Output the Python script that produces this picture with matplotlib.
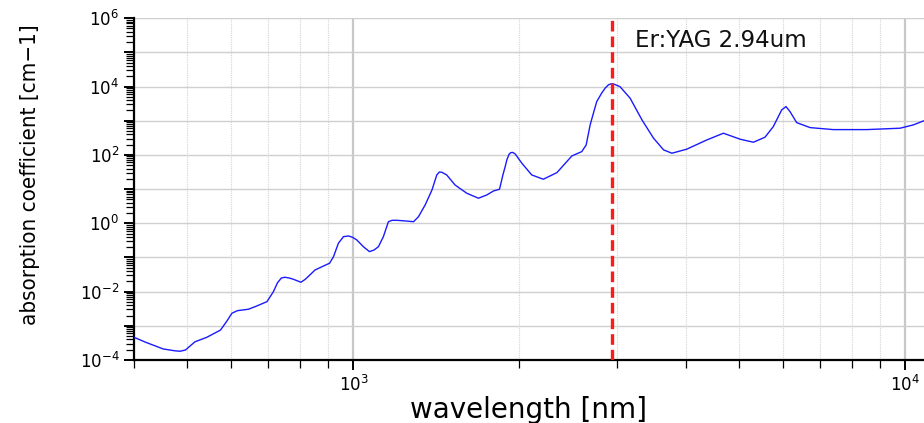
import math

import matplotlib
matplotlib.use("Agg")
import matplotlib.pyplot as plt
from matplotlib import font_manager
from matplotlib.ticker import LogLocator, FuncFormatter, NullFormatter

# Water absorption spectrum
wavelength_nm = [
    400, 422, 452, 475, 485, 496, 506, 516, 542, 574, 590, 602, 616, 645,
    668, 697, 716, 728, 740, 751, 765, 778, 803, 818, 852, 880, 905, 920,
    939, 959, 979, 996, 1014, 1042, 1069, 1090, 1110, 1133, 1157, 1175,
    1199, 1241, 1285, 1312, 1349, 1388, 1416, 1431, 1446, 1476, 1528, 1605,
    1685, 1745, 1795, 1840, 1866, 1884, 1897, 1915, 1929, 1945, 1964, 2020,
    2105, 2209, 2338, 2489, 2594, 2642, 2686, 2723, 2761, 2818, 2860, 2898,
    2930, 2959, 3042, 3174, 3335, 3500, 3650, 3779, 4020, 4372, 4686, 5023,
    5310, 5573, 5770, 5976, 6084, 6187, 6362, 6729, 7413, 8524, 9796,
    10350, 10800,
]
absorption = [
    4.6e-4, 3.2e-4, 2.1e-4, 1.85e-4, 1.8e-4, 1.96e-4, 2.6e-4, 3.4e-4,
    4.6e-4, 7.5e-4, 1.4e-3, 2.33e-3, 2.77e-3, 3.05e-3,
    3.8e-3, 5.1e-3, 1.0e-2, 1.8e-2, 0.025, 0.0263, 0.025, 0.023, 0.0188,
    0.023, 0.043, 0.055, 0.0676, 0.105,
    0.26, 0.405, 0.425, 0.39, 0.325, 0.207, 0.148, 0.165, 0.207, 0.405,
    1.11, 1.22, 1.22, 1.17, 1.11, 1.56, 3.44, 9.45, 25.9, 31.5,
    31.1, 25.9, 13.2, 7.55,
    5.4, 6.74, 8.83, 9.9, 25.9, 45.4, 71.3, 105, 116.7, 118,
    107, 57,
    25.9, 19.4, 30.3, 93.3, 125, 196, 754, 1660, 3630, 6380, 9000, 11160,
    12000, 11950, 9960, 4560, 1056, 308, 140, 112, 147, 274, 431, 288,
    235, 329, 672, 2070, 2590, 1850, 880, 629, 550, 550, 604,
    754, 986,
]

laser_nm = 2940
laser_label = "Er:YAG 2.94um"

fig = plt.figure(figsize=(9.24, 4.23), dpi=100)
ax = fig.add_axes([0.145, 0.149, 0.855, 0.808])

ax.plot(wavelength_nm, absorption, color="#1a1aff", linewidth=1.0, zorder=3)
ax.axvline(laser_nm, color="#ff1a1a", linewidth=2.4, dashes=(3.2, 1.5), zorder=4)
ax.text(laser_nm * 1.10, 10**5.35, laser_label, fontsize=16.5, va="center",
        ha="left", color="#111111")

ax.set_xscale("log")
ax.set_yscale("log")
ax.set_xlim(400, 10825)
ax.set_ylim(1e-4, 1e6)

# every decade gets a major tick, only even decades are labelled
ax.yaxis.set_major_locator(LogLocator(base=10, numticks=20))
ax.yaxis.set_minor_locator(LogLocator(base=10, subs=range(2, 10), numticks=20))
ax.yaxis.set_minor_formatter(NullFormatter())


def even_decades(v, pos):
    e = int(round(math.log10(v)))
    if e % 2:
        return ""
    return r"$10^{%d}$" % e


ax.yaxis.set_major_formatter(FuncFormatter(even_decades))
ax.xaxis.set_minor_formatter(NullFormatter())

ax.grid(True, which="major", axis="y", color="#d0d0d0", linewidth=1.0)
ax.grid(True, which="major", axis="x", color="#c8c8c8", linewidth=1.6)
ax.grid(True, which="minor", axis="x", color="#d4d4d4", linewidth=0.8,
        linestyle=(0, (1, 1)))

for side in ["top", "right"]:
    ax.spines[side].set_visible(False)
for side in ["left", "bottom"]:
    ax.spines[side].set_linewidth(1.6)

ax.tick_params(which="major", direction="out", length=7, width=1.4,
               labelsize=12)
ax.tick_params(which="minor", direction="out", length=6, width=0.9)

ax.set_xlabel("wavelength [nm]", fontsize=20, va="center")
ax.xaxis.set_label_coords(0.5, -0.146)

# condensed face for the y label, if one is around
names = {f.name for f in font_manager.fontManager.ttflist}
if "Liberation Sans Narrow" in names:
    ylab_font = dict(family="Liberation Sans Narrow", fontsize=19)
else:
    ylab_font = dict(family="DejaVu Sans", stretch="condensed", fontsize=16)
ax.set_ylabel("absorption coefficient [cm\u22121]", va="center", **ylab_font)
ax.yaxis.set_label_coords(-0.132, 0.541)

fig.savefig("out.png", dpi=100)
